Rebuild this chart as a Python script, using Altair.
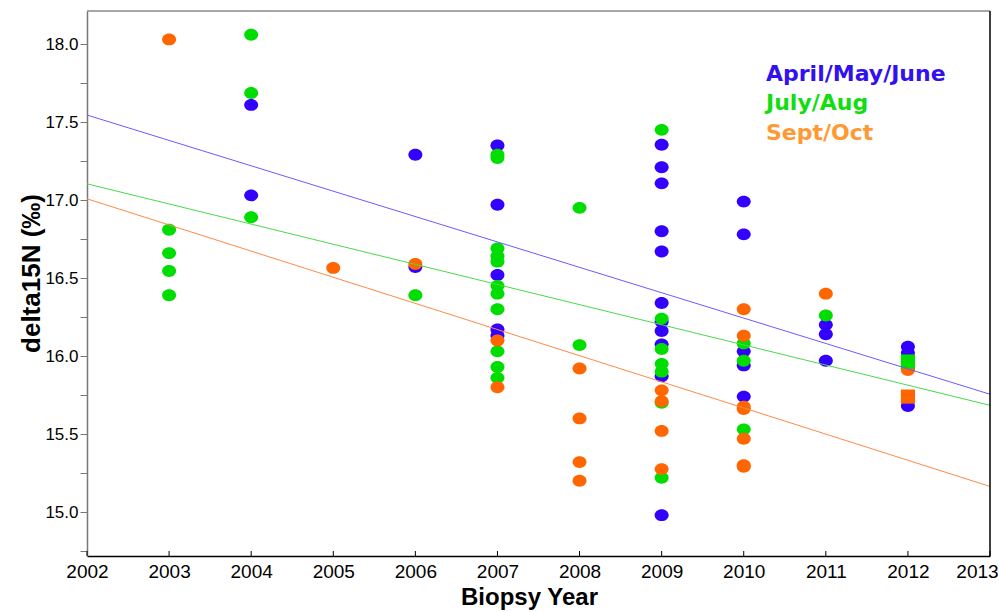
import altair as alt
import pandas as pd

W, H = 903, 545

seasons = ["April/May/June", "July/Aug", "Sept/Oct"]
point_colors = ["#3300FF", "#00DD00", "#FF6600"]
line_colors = ["#6A5CFF", "#4ADB4A", "#FF8A4A"]
legend_colors = ["#3311EE", "#11DD11", "#FF9933"]

# April/May/June (blue)
amj_year = [2004, 2004, 2006, 2006,
            2007, 2007, 2007, 2007, 2007,
            2009, 2009, 2009, 2009, 2009, 2009, 2009, 2009, 2009, 2009, 2009,
            2010, 2010, 2010, 2010, 2010,
            2011, 2011, 2011,
            2012, 2012, 2012, 2012]
amj_val = [17.61, 17.03, 17.29, 16.57,
           17.35, 16.97, 16.52, 16.17, 16.13,
           17.355, 17.21, 17.107, 16.80, 16.67, 16.34, 16.22, 16.16, 16.075, 15.87, 14.98,
           16.99, 16.78, 16.03, 15.94, 15.74,
           16.20, 16.14, 15.97,
           16.06, 16.02, 15.92, 15.68]

# July/Aug (green)
ja_year = [2003, 2003, 2003, 2003,
           2004, 2004, 2004,
           2006,
           2007, 2007, 2007, 2007, 2007, 2007, 2007, 2007, 2007, 2007, 2007,
           2008, 2008,
           2009, 2009, 2009, 2009, 2009, 2009, 2009,
           2010, 2010, 2010,
           2011,
           2012]
ja_val = [16.81, 16.66, 16.545, 16.39,
          18.06, 17.686, 16.89,
          16.39,
          17.29, 17.27, 16.69, 16.64, 16.605, 16.45, 16.40, 16.30, 16.03, 15.93, 15.86,
          16.95, 16.07,
          17.45, 16.24, 16.045, 15.95, 15.90, 15.70, 15.22,
          16.08, 15.97, 15.53,
          16.26,
          15.94]

# Sept/Oct (orange)
so_year = [2003, 2005, 2006,
           2007, 2007,
           2008, 2008, 2008, 2008,
           2009, 2009, 2009, 2009,
           2010, 2010, 2010, 2010, 2010, 2010, 2010,
           2011,
           2012]
so_val = [18.03, 16.565, 16.59,
          16.10, 15.80,
          15.92, 15.60, 15.32, 15.20,
          15.78, 15.71, 15.52, 15.275,
          16.30, 16.13, 15.675, 15.66, 15.47, 15.30, 15.29,
          16.40,
          15.91]

# square markers (2012)
sq_year = [2012, 2012]
sq_val = [15.965, 15.74]
sq_season = ["July/Aug", "Sept/Oct"]

# fitted trend lines (end points)
fit_years = [2002, 2013]
fit_amj = [17.545, 15.755]
fit_ja = [17.104, 15.684]
fit_so = [17.008, 15.164]

x_ticks = list(range(2002, 2014))
y_ticks = [14.75 + 0.25 * i for i in range(14)]

pts = pd.concat([
    pd.DataFrame({"year": amj_year, "val": amj_val, "season": seasons[0]}),
    pd.DataFrame({"year": ja_year, "val": ja_val, "season": seasons[1]}),
    pd.DataFrame({"year": so_year, "val": so_val, "season": seasons[2]}),
], ignore_index=True)
sq = pd.DataFrame({"year": sq_year, "val": sq_val, "season": sq_season})
fits = pd.concat([
    pd.DataFrame({"year": fit_years, "val": fit_amj, "season": seasons[0]}),
    pd.DataFrame({"year": fit_years, "val": fit_ja, "season": seasons[1]}),
    pd.DataFrame({"year": fit_years, "val": fit_so, "season": seasons[2]}),
], ignore_index=True)

xscale = alt.Scale(domain=[2002, 2013], nice=False, zero=False)
yscale = alt.Scale(domain=[14.718, 18.212], nice=False, zero=False)

xaxis = alt.Axis(values=x_ticks, format="d", tickSize=0, grid=False,
                 domainColor="#000000", domainWidth=1.5,
                 labelFont="Liberation Sans", labelFontSize=19, labelColor="#000000",
                 labelPadding=6, labelFlush=False, labelOverlap=False,
                 labelOffset={"condition": {"test": "datum.value == 2013", "value": -13}, "value": 0},
                 title="Biopsy Year", titleFont="Liberation Sans", titleFontSize=24,
                 titleFontWeight="bold", titleColor="#000000",
                 titleX=442, titleY=48, titleBaseline="alphabetic")
yaxis = alt.Axis(values=y_ticks, grid=False, tickSize=7, tickColor="#777777",
                 domainColor="#777777", domainWidth=1.5,
                 labelExpr="abs(datum.value*2 - round(datum.value*2)) < 0.01 ? format(datum.value, '.1f') : ''",
                 labelFont="Liberation Sans", labelFontSize=17, labelColor="#000000",
                 labelPadding=2, labelOverlap=False, labelFlush=False,
                 title="delta15N (\u2030)", titleFont="Liberation Sans", titleFontSize=26,
                 titleFontWeight="bold", titleColor="#000000", titleAlign="center",
                 titleX=-48, titleY=262, titleBaseline="alphabetic")

ELLIPSE = "M -1 0 A 1 0.85 0 1 0 1 0 A 1 0.85 0 1 0 -1 0 Z"

points = alt.Chart(pts).mark_point(filled=True, shape=ELLIPSE, size=196, opacity=1, strokeWidth=0).encode(
    x=alt.X("year:Q", scale=xscale, axis=xaxis),
    y=alt.Y("val:Q", scale=yscale, axis=yaxis),
    color=alt.Color("season:N", scale=alt.Scale(domain=seasons, range=point_colors), legend=None),
)
squares = alt.Chart(sq).mark_point(filled=True, shape="square", size=200, opacity=1, strokeWidth=0).encode(
    x=alt.X("year:Q", scale=xscale),
    y=alt.Y("val:Q", scale=yscale),
    color=alt.Color("season:N", scale=alt.Scale(domain=seasons, range=point_colors), legend=None),
)
lines = alt.Chart(fits).mark_line(strokeWidth=1).encode(
    x=alt.X("year:Q", scale=xscale),
    y=alt.Y("val:Q", scale=yscale),
    detail="season:N",
    color=alt.Color("season:N", scale=alt.Scale(domain=seasons, range=line_colors), legend=None),
)

one = pd.DataFrame({"a": [0]})
xtick_rules = alt.Chart(pd.DataFrame({"year": x_ticks})).mark_rule(color="#000000", strokeWidth=1).encode(
    x=alt.X("year:Q", scale=xscale), y=alt.value(H), y2=alt.value(H - 5))
top_border = alt.Chart(one).mark_rule(color="#888888", strokeWidth=1.5).encode(
    x=alt.value(0), x2=alt.value(W), y=alt.value(0))
right_border = alt.Chart(one).mark_rule(color="#000000", strokeWidth=1.5).encode(
    x=alt.value(W), y=alt.value(0), y2=alt.value(H))

legend_y = [63, 92, 122]
legend_layers = []
for s, c, yy in zip(seasons, legend_colors, legend_y):
    legend_layers.append(
        alt.Chart(pd.DataFrame({"label": [s]})).mark_text(
            align="left", baseline="middle", font="DejaVu Sans", fontWeight="bold",
            fontSize=22, color=c).encode(x=alt.value(679), y=alt.value(yy), text="label:N")
    )

chart = alt.layer(points, squares, lines, xtick_rules, top_border, right_border, *legend_layers).resolve_scale(
    color="independent"
).properties(
    width=W, height=H,
    autosize=alt.AutoSizeParams(type="none"),
    padding={"left": 87, "top": 11, "right": 8, "bottom": 56},
    background="white",
).configure_view(stroke=None)

chart.save("out.html", embed_options={"renderer": "svg", "actions": False})
